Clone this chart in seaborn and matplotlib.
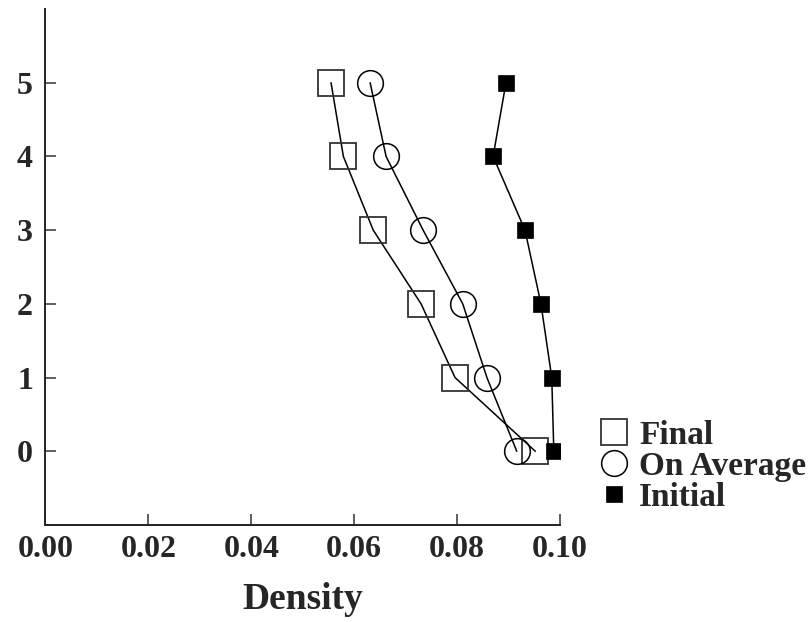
import matplotlib
matplotlib.use("Agg")
import matplotlib.pyplot as plt
from matplotlib.lines import Line2D
import seaborn as sns
import pandas as pd

levels = [5, 4, 3, 2, 1, 0]
final = [0.0555, 0.0579, 0.0637, 0.0730, 0.0796, 0.0952]
on_average = [0.0631, 0.0662, 0.0734, 0.0811, 0.0858, 0.0916]
initial = [0.0895, 0.0870, 0.0932, 0.0963, 0.0984, 0.0988]
series_names = ["Final", "On Average", "Initial"]
x_ticks = [0.00, 0.02, 0.04, 0.06, 0.08, 0.10]
y_ticks = [0, 1, 2, 3, 4, 5]

sns.set_style("ticks")
plt.rcParams['font.family'] = ['Liberation Serif', 'DejaVu Serif']
plt.rcParams['font.weight'] = 'bold'

fig = plt.figure(figsize=(8.09, 6.22), dpi=100)
ax = fig.add_axes([0.0562, 0.156, 0.6360, 0.8295])

styles = {
    "Final": dict(marker='s', markersize=18.5, markerfacecolor='none', markeredgecolor='#333333', markeredgewidth=1.3),
    "On Average": dict(marker='o', markersize=18.5, markerfacecolor='none', markeredgecolor='black', markeredgewidth=1.1),
    "Initial": dict(marker='s', markersize=11.5, markerfacecolor='black', markeredgecolor='black', markeredgewidth=0.5),
}
values = {"Final": final, "On Average": on_average, "Initial": initial}

for name in series_names:
    df = pd.DataFrame({"density": values[name], "level": levels})
    sns.lineplot(data=df, x="density", y="level", sort=False, estimator=None,
                 color='black', linewidth=1.1, ax=ax, **styles[name])

ax.set_xlim(0.0, 0.10)
ax.set_ylim(-1, 6)
ax.set_xticks(x_ticks)
ax.set_xticklabels([f"{v:.2f}" for v in x_ticks])
ax.set_yticks(y_ticks)
ax.set_yticklabels([str(v) for v in y_ticks])
ax.tick_params(axis='both', direction='in', length=8, width=1.1, color='#333333',
               labelsize=23, pad=9)
ax.tick_params(axis='x', pad=7)
for lab in ax.get_xticklabels() + ax.get_yticklabels():
    lab.set_fontweight('bold')

ax.set_xlabel("Density", fontsize=27, fontweight='bold', labelpad=13)
ax.set_ylabel("")

sns.despine(ax=ax)
for s in ['left', 'bottom']:
    ax.spines[s].set_linewidth(1.4)
    ax.spines[s].set_color('#222222')

handles = [Line2D([], [], linestyle='none', **styles[n]) for n in series_names]
leg = fig.legend(handles, series_names, loc='center left',
                 bbox_to_anchor=(599 / 809, 1 - 466 / 622),
                 frameon=False, prop={'family': 'Liberation Serif', 'weight': 'bold', 'size': 24},
                 handlelength=0.9, handletextpad=0.3, labelspacing=0.0, borderpad=0.0,
                 borderaxespad=0.0)

fig.savefig("out.png", dpi=100)
